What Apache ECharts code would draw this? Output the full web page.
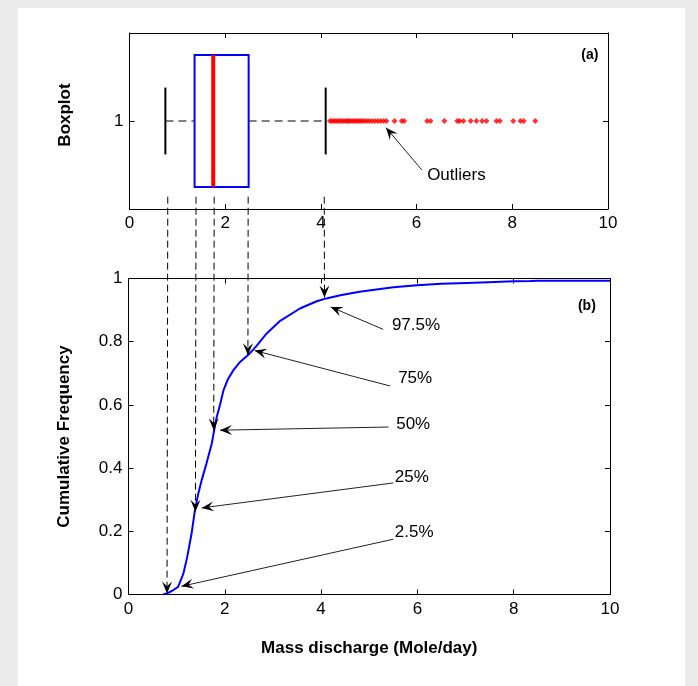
<!DOCTYPE html>
<html>
<head>
<meta charset="utf-8">
<script src="https://cdn.jsdelivr.net/npm/echarts@6/dist/echarts.min.js"></script>
<style>
  html, body { margin: 0; padding: 0; background: #ebebeb; }
  #panel { position: absolute; left: 18px; top: 8px; width: 667px; height: 678px; background: #fff; }
  #chart { position: absolute; left: 0; top: 0; width: 698px; height: 686px; }
</style>
</head>
<body>
<div id="panel"></div>
<div id="chart"></div>
<script>
// box plot statistics: lower whisker, q1, median, q3, upper whisker
const boxStats = [0.75, 1.36, 1.75, 2.49, 4.10]
const outliers = [4.19, 4.23, 4.27, 4.31, 4.35, 4.39, 4.43, 4.47, 4.51, 4.55, 4.58, 4.62, 4.66, 4.70,
  4.74, 4.78, 4.82, 4.86, 4.91, 4.96, 5.01, 5.07, 5.13, 5.19, 5.25, 5.31, 5.37, 5.54, 5.69, 5.74,
  6.22, 6.29, 6.58, 6.85, 6.90, 6.98, 7.13, 7.25, 7.37, 7.46, 7.67, 7.74, 8.02, 8.17, 8.24, 8.48]

// empirical cumulative frequency
const cdfX = [0.72, 0.79, 0.90, 1.03, 1.14, 1.22, 1.31, 1.38, 1.45, 1.52, 1.62, 1.73, 1.78, 1.83, 1.90,
  1.97, 2.07, 2.18, 2.30, 2.50, 2.66, 2.87, 3.15, 3.56, 3.91, 4.11, 4.40, 4.80, 5.50, 5.99, 6.50, 7.03, 7.60,
  8.00, 8.35, 8.50, 10.0]
const cdfY = [0, 0.003, 0.011, 0.024, 0.066, 0.119, 0.193, 0.267, 0.32, 0.362, 0.415, 0.478, 0.52, 0.56, 0.60,
  0.645, 0.683, 0.71, 0.733, 0.760, 0.787, 0.826, 0.866, 0.905, 0.928, 0.937, 0.947, 0.958, 0.972, 0.979, 0.983,
  0.986, 0.989, 0.991, 0.992, 0.993, 0.993]

// percentiles marked on the curve
const quantileLabels = ['2.5%', '25%', '50%', '75%', '97.5%']
const quantileX = [0.80, 1.39, 1.77, 2.48, 4.07]
const quantileY = [0.003, 0.262, 0.52, 0.757, 0.94]

const xTicks = [0, 2, 4, 6, 8, 10]
const yTicks = [0, 0.2, 0.4, 0.6, 0.8, 1]

const FONT = '"Liberation Sans", Arial, sans-serif'

// annotation layout in data units: [tail, tip, text anchor]
const labelArrows = [
  { tail: [5.50, 0.175], tip: [1.10, 0.026], text: [5.53, 0.198] },
  { tail: [5.50, 0.353], tip: [1.52, 0.274], text: [5.53, 0.370] },
  { tail: [5.40, 0.530], tip: [1.90, 0.520], text: [5.56, 0.539] },
  { tail: [5.43, 0.660], tip: [2.62, 0.772], text: [5.60, 0.685] },
  { tail: [5.29, 0.839], tip: [4.20, 0.910], text: [5.47, 0.852] }
]
const outlierArrow = { tail: [6.11, 0.722], tip: [5.36, 0.962], text: [6.22, 0.693] }

function xAxisOf(grid, top, name) {
  return {
    gridIndex: grid,
    type: 'value',
    min: 0,
    max: 10,
    interval: 2,
    position: top ? 'top' : 'bottom',
    axisLine: { show: true, onZero: false, lineStyle: { color: '#000', width: 1 } },
    axisTick: { show: true, inside: true, length: 5, lineStyle: { color: '#000' } },
    axisLabel: { show: !top, color: '#000', fontSize: 17, fontFamily: FONT, margin: 6 },
    splitLine: { show: false },
    name: name || '',
    nameLocation: 'middle',
    nameGap: 45,
    nameTextStyle: { color: '#000', fontSize: 17, fontWeight: 'bold', fontFamily: FONT }
  }
}

function yAxisOf(grid, right, extra) {
  return Object.assign({
    gridIndex: grid,
    type: 'value',
    position: right ? 'right' : 'left',
    axisLine: { show: true, onZero: false, lineStyle: { color: '#000', width: 1 } },
    axisTick: { show: true, inside: true, length: 5, lineStyle: { color: '#000' } },
    axisLabel: { show: !right, color: '#000', fontSize: 17, fontFamily: FONT, margin: 6 },
    splitLine: { show: false },
    nameLocation: 'middle',
    nameGap: 56,
    nameRotate: 90,
    nameTextStyle: { color: '#000', fontSize: 17, fontWeight: 'bold', fontFamily: FONT }
  }, extra)
}

const boxYAxis = { min: 0.5, max: 1.5, interval: 0.5 }

const option = {
  animation: false,
  grid: [
    { left: 129.5, top: 33, width: 478.5, height: 176 },
    { left: 128.5, top: 278.5, width: 481.5, height: 316 }
  ],
  xAxis: [
    xAxisOf(0, false),
    xAxisOf(0, true),
    xAxisOf(1, false, 'Mass discharge (Mole/day)'),
    xAxisOf(1, true)
  ],
  yAxis: [
    yAxisOf(0, false, Object.assign({
      name: 'Boxplot',
      nameTextStyle: { color: '#000', fontSize: 17, fontWeight: 'bold', fontFamily: FONT, padding: [0, 0, 0, 12] },
      axisTick: { show: true, inside: true, length: 5, lineStyle: { color: '#000' }, customValues: [1] },
      axisLabel: { show: true, color: '#000', fontSize: 17, fontFamily: FONT, margin: 6, customValues: [1] }
    }, boxYAxis)),
    yAxisOf(0, true, Object.assign({
      axisTick: { show: true, inside: true, length: 5, lineStyle: { color: '#000' }, customValues: [1] }
    }, boxYAxis)),
    yAxisOf(1, false, { name: 'Cumulative Frequency', min: 0, max: 1, interval: 0.2 }),
    yAxisOf(1, true, { min: 0, max: 1, interval: 0.2 })
  ],
  series: [
    {
      type: 'custom',
      xAxisIndex: 0,
      yAxisIndex: 0,
      clip: false,
      data: [boxStats.concat([1])],
      encode: { x: [0, 1, 2, 3, 4], y: 5 },
      renderItem: function (params, api) {
        const y = api.value(5)
        const c = (x, yy) => api.coord([x, yy])
        const lo = api.value(0), q1 = api.value(1), md = api.value(2), q3 = api.value(3), hi = api.value(4)
        const line = (p1, p2, style) => ({
          type: 'line',
          shape: { x1: p1[0], y1: p1[1], x2: p2[0], y2: p2[1] },
          style: style
        })
        const dash = { stroke: '#000', lineWidth: 1, lineDash: [8, 5] }
        const boxTL = c(q1, y + 0.375), boxBR = c(q3, y - 0.375)
        return {
          type: 'group',
          children: [
            line(c(lo, y), c(q1, y), dash),
            line(c(q3, y), c(hi, y), dash),
            line(c(lo, y - 0.19), c(lo, y + 0.19), { stroke: '#000', lineWidth: 2 }),
            line(c(hi, y - 0.19), c(hi, y + 0.19), { stroke: '#000', lineWidth: 2 }),
            {
              type: 'rect',
              shape: { x: boxTL[0], y: boxTL[1], width: boxBR[0] - boxTL[0], height: boxBR[1] - boxTL[1] },
              style: { fill: 'none', stroke: '#0000ff', lineWidth: 2 }
            },
            line(c(md, y - 0.375), c(md, y + 0.375), { stroke: '#ff0000', lineWidth: 4 })
          ]
        }
      }
    },
    {
      type: 'scatter',
      xAxisIndex: 0,
      yAxisIndex: 0,
      symbol: 'diamond',
      symbolSize: 6,
      itemStyle: { color: '#ff0000' },
      z: 5,
      data: outliers.map(v => [v, 1])
    },
    {
      type: 'line',
      xAxisIndex: 2,
      yAxisIndex: 2,
      showSymbol: false,
      symbol: 'none',
      lineStyle: { color: '#0000ff', width: 2 },
      itemStyle: { color: '#0000ff' },
      data: cdfX.map((x, i) => [x, cdfY[i]])
    }
  ]
}

const chart = echarts.init(document.getElementById('chart'))
chart.setOption(option)

// annotations (arrows and texts) placed through the axes' own scales
const topPx = pt => chart.convertToPixel({ xAxisIndex: 0, yAxisIndex: 0 }, pt)
const botPx = pt => chart.convertToPixel({ xAxisIndex: 2, yAxisIndex: 2 }, pt)

function arrowHead(tip, from, len, half) {
  const dx = tip[0] - from[0], dy = tip[1] - from[1]
  const d = Math.hypot(dx, dy)
  const ux = dx / d, uy = dy / d, nx = -uy, ny = ux
  const bx = tip[0] - ux * len, by = tip[1] - uy * len
  const mx = tip[0] - ux * len * 0.6, my = tip[1] - uy * len * 0.6
  return {
    type: 'polygon',
    shape: { points: [tip, [bx + nx * half, by + ny * half], [mx, my], [bx - nx * half, by - ny * half]] },
    style: { fill: '#000' },
    z: 10
  }
}

function arrow(from, tip, dashed) {
  return [
    {
      type: 'line',
      shape: { x1: from[0], y1: from[1], x2: tip[0], y2: tip[1] },
      style: { stroke: dashed ? '#000' : '#222', lineWidth: 1, lineDash: dashed ? [7, 4] : null },
      z: 10
    },
    arrowHead(tip, from, 12, 5)
  ]
}

function label(text, p, size, bold) {
  return {
    type: 'text',
    x: p[0],
    y: p[1],
    z: 10,
    style: {
      text: text,
      fill: '#000',
      font: (bold ? 'bold ' : '') + size + 'px ' + FONT,
      textAlign: bold ? 'center' : 'left',
      textVerticalAlign: 'middle'
    }
  }
}

const elements = []
quantileX.forEach((qx, i) => {
  elements.push(...arrow(topPx([qx, 0.57]), botPx([qx, quantileY[i]]), true))
})
labelArrows.forEach((a, i) => {
  elements.push(...arrow(botPx(a.tail), botPx(a.tip), false))
  elements.push(label(quantileLabels[i], botPx(a.text), 17, false))
})
elements.push(...arrow(topPx(outlierArrow.tail), topPx(outlierArrow.tip), false))
elements.push(label('Outliers', topPx(outlierArrow.text), 17, false))
elements.push(label('(a)', topPx([9.62, 1.375]), 14, true))
elements.push(label('(b)', botPx([9.52, 0.914]), 14, true))

chart.setOption({ graphic: elements })
</script>
</body>
</html>
